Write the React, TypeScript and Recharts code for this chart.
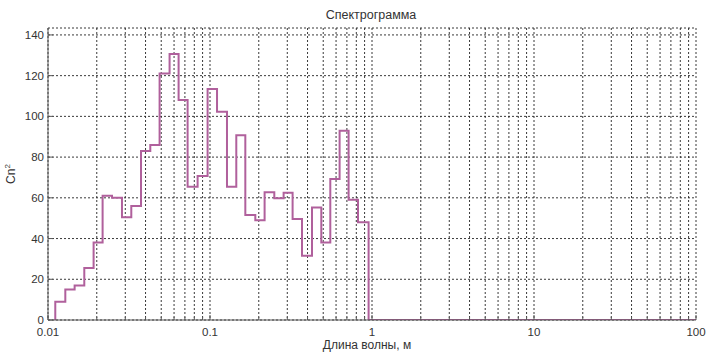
import React from 'react';
import { LineChart, Line, XAxis, YAxis, CartesianGrid } from 'recharts';

// bin edges (wavelength, m)
const binEdges = [
  0.01109, 0.01279, 0.0146, 0.01675, 0.01912, 0.02173, 0.02484, 0.02862, 0.03267,
  0.03751, 0.0428, 0.04885, 0.0563, 0.064, 0.07273, 0.08385, 0.09665, 0.1105,
  0.1273, 0.1453, 0.1652, 0.1904, 0.2173, 0.2494, 0.2847, 0.3235, 0.3698, 0.4262,
  0.4864, 0.5528, 0.631, 0.7171, 0.8196, 0.9528,
];

// Cn^2 value in each bin
const binValues = [
  9, 15, 17, 25.5, 38, 61, 60, 50.5, 56, 83, 86, 121, 130.6, 108, 65.5, 70.7,
  113.5, 102.3, 65.5, 90.7, 51.6, 49, 62.7, 59.8, 62.5, 49.6, 31.6, 55.3, 38.1,
  69.2, 93, 59, 48,
];

const xTicks = [
  0.01, 0.02, 0.03, 0.04, 0.05, 0.06, 0.07, 0.08, 0.09,
  0.1, 0.2, 0.3, 0.4, 0.5, 0.6, 0.7, 0.8, 0.9,
  1, 2, 3, 4, 5, 6, 7, 8, 9,
  10, 20, 30, 40, 50, 60, 70, 80, 90, 100,
];
const xMajor = [0.01, 0.1, 1, 10, 100];
const yTicks = [0, 20, 40, 60, 80, 100, 120, 140];

const data: { x: number; y: number }[] = [{ x: binEdges[0], y: 0 }];
binValues.forEach((v, i) => data.push({ x: binEdges[i], y: v }));
data.push({ x: binEdges[binEdges.length - 1], y: 0 });
data.push({ x: 100, y: 0 });

const FONT = 'Liberation Sans, Arial, sans-serif';
const AXIS_COLOR = '#555';

const isMajor = (v: number) => xMajor.some(m => Math.abs(m - v) < m * 1e-6);

const BottomTick = ({ x, y, payload }: any) => {
  const major = isMajor(payload.value);
  return (
    <g>
      <line x1={x} y1={y} x2={x} y2={y - (major ? 5 : 3)} stroke={AXIS_COLOR} />
      {major && (
        <text x={x} y={y + 16} textAnchor="middle" fontSize={11.5} fill="#333" fontFamily={FONT}>
          {payload.value}
        </text>
      )}
    </g>
  );
};

const TopTick = ({ x, y, payload }: any) => {
  const major = isMajor(payload.value);
  return <line x1={x} y1={y} x2={x} y2={y + (major ? 5 : 3)} stroke={AXIS_COLOR} />;
};

const LeftTick = ({ x, y, payload }: any) => (
  <g>
    <line x1={x} y1={y} x2={x + 5} y2={y} stroke={AXIS_COLOR} />
    <text x={x - 4} y={y + 4} textAnchor="end" fontSize={11.5} fill="#333" fontFamily={FONT}>
      {payload.value}
    </text>
  </g>
);

const RightTick = ({ x, y }: any) => (
  <line x1={x} y1={y} x2={x - 5} y2={y} stroke={AXIS_COLOR} />
);

export default function App() {
  return (
    <div style={{ position: 'absolute', left: 0, top: 0, width: 706, height: 352, background: '#fff' }}>
      <LineChart
        width={706}
        height={352}
        data={data}
        margin={{ top: 28, right: 10, bottom: 0, left: 0 }}
      >
        <CartesianGrid
          stroke="#222"
          strokeDasharray="2 2"
          strokeWidth={0.9}
          xAxisId="bottom"
          yAxisId="left"
        />
        <XAxis
          xAxisId="bottom"
          dataKey="x"
          type="number"
          scale="log"
          domain={[0.01, 100]}
          ticks={xTicks}
          interval={0}
          allowDataOverflow
          height={32}
          tickSize={0}
          tickMargin={0}
          tick={<BottomTick />}
          axisLine={{ stroke: AXIS_COLOR }}
        />
        <XAxis
          xAxisId="top"
          orientation="top"
          dataKey="x"
          type="number"
          scale="log"
          domain={[0.01, 100]}
          ticks={xTicks}
          interval={0}
          allowDataOverflow
          height={0}
          tickSize={0}
          tickMargin={0}
          tick={<TopTick />}
          axisLine={{ stroke: AXIS_COLOR }}
        />
        <YAxis
          yAxisId="left"
          type="number"
          domain={[0, 143.4]}
          ticks={yTicks}
          interval={0}
          allowDataOverflow
          width={48}
          tickSize={0}
          tickMargin={0}
          tick={<LeftTick />}
          axisLine={{ stroke: AXIS_COLOR }}
        />
        <YAxis
          yAxisId="right"
          orientation="right"
          type="number"
          domain={[0, 143.4]}
          ticks={yTicks}
          interval={0}
          allowDataOverflow
          width={0}
          tickSize={0}
          tickMargin={0}
          tick={<RightTick />}
          axisLine={{ stroke: AXIS_COLOR }}
        />
        <Line
          xAxisId="bottom"
          yAxisId="left"
          type="stepAfter"
          dataKey="y"
          stroke="#b0609c"
          strokeWidth={2}
          dot={false}
          isAnimationActive={false}
        />
        <text x={371} y={19} textAnchor="middle" fontSize={12.5} fill="#333" fontFamily={FONT}>
          Спектрограмма
        </text>
        <text x={367} y={349} textAnchor="middle" fontSize={12} fill="#333" fontFamily={FONT}>
          Длина волны, м
        </text>
        <text
          x={15}
          y={174}
          textAnchor="middle"
          fontSize={12}
          fill="#333"
          fontFamily={FONT}
          transform="rotate(-90 15 174)"
        >
          Cn
          <tspan dy={-5} fontSize={8}>2</tspan>
        </text>
      </LineChart>
    </div>
  );
}
